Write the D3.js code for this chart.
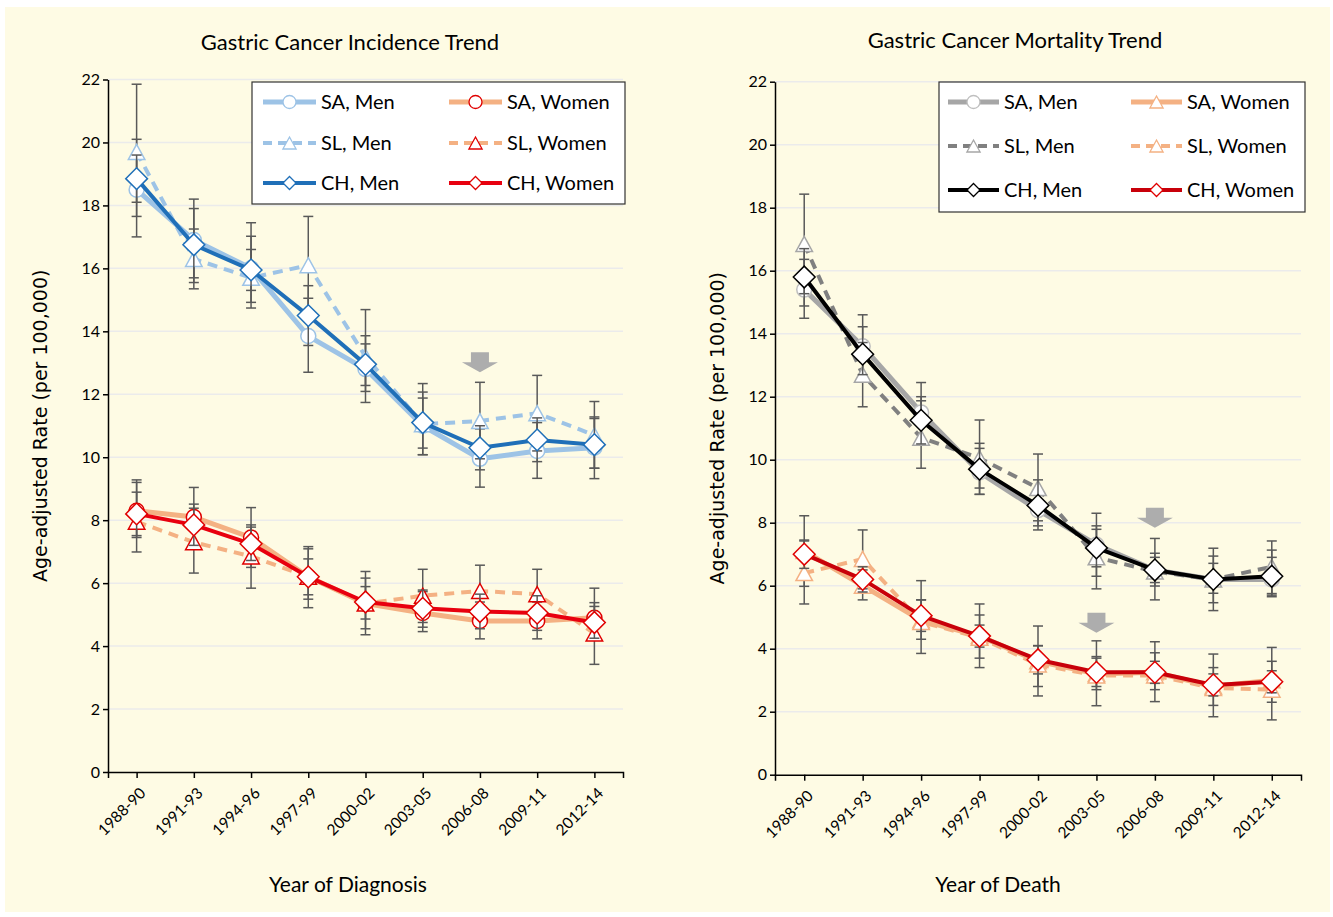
<!DOCTYPE html>
<html>
<head>
<meta charset="utf-8">
<script src="https://cdn.jsdelivr.net/npm/d3@7"></script>
<style>
  body { margin: 0; background: #ffffff; }
  svg text { font-family: Lato, "Open Sans", sans-serif; fill: #000; }
</style>
</head>
<body>
<div id="chart"></div>
<script>
// --- data ---
const periods = ["1988-90", "1991-93", "1994-96", "1997-99", "2000-02", "2003-05", "2006-08", "2009-11", "2012-14"];
const yTicks = [0, 2, 4, 6, 8, 10, 12, 14, 16, 18, 20, 22];

// incidence (left)
const incSAMen = [18.5, 16.9, 16.0, 13.85, 12.8, 11.0, 9.95, 10.2, 10.3];
const incSAMenLo = [17.0, 15.55, 14.92, 12.7, 12.09, 10.08, 9.05, 9.33, 9.32];
const incSAMenHi = [20.1, 18.2, 17.02, 15.05, 13.86, 12.07, 10.9, 11.1, 11.28];
const incSLMen = [19.7, 16.3, 15.7, 16.1, 13.2, 11.05, 11.15, 11.4, 10.7];
const incSLMenLo = [17.65, 15.35, 14.74, 14.6, 11.74, 10.08, 9.95, 10.2, 9.65];
const incSLMenHi = [21.85, 17.25, 17.45, 17.65, 14.69, 12.34, 12.38, 12.6, 11.77];
const incCHMen = [18.85, 16.75, 15.95, 14.5, 12.95, 11.1, 10.3, 10.55, 10.4];
const incCHMenLo = [18.1, 15.7, 15.3, 13.55, 12.28, 10.29, 9.6, 9.86, 9.65];
const incCHMenHi = [19.6, 17.9, 16.6, 15.45, 13.6, 11.88, 11.0, 11.25, 11.23];

const incSAWomen = [8.3, 8.1, 7.45, 6.2, 5.35, 5.05, 4.8, 4.8, 4.9];
const incSAWomenLo = [7.45, 7.16, 6.5, 5.22, 4.55, 4.46, 4.23, 4.23, 4.2];
const incSAWomenHi = [9.2, 9.04, 8.4, 7.16, 6.16, 5.73, 5.4, 5.4, 5.84];
const incSLWomen = [7.95, 7.3, 6.85, 6.2, 5.35, 5.6, 5.75, 5.65, 4.4];
const incSLWomenLo = [6.99, 6.32, 5.84, 5.49, 4.36, 4.75, 4.9, 4.85, 3.42];
const incSLWomenHi = [8.89, 8.38, 7.85, 7.09, 6.37, 6.44, 6.57, 6.44, 5.38];
const incCHWomen = [8.2, 7.85, 7.25, 6.2, 5.4, 5.2, 5.1, 5.05, 4.75];
const incCHWomenLo = [7.51, 7.2, 6.72, 5.63, 4.86, 4.6, 4.55, 4.5, 4.25];
const incCHWomenHi = [9.28, 8.51, 7.78, 6.77, 5.89, 5.78, 5.65, 5.6, 5.26];

// mortality (right)
const morSAMen = [15.4, 13.6, 11.5, 9.6, 8.4, 7.3, 6.5, 6.2, 6.2];
const morSAMenLo = [14.49, 12.6, 10.55, 8.9, 7.9, 6.3, 5.99, 5.46, 5.65];
const morSAMenHi = [16.36, 14.6, 12.45, 10.36, 8.95, 8.3, 7.03, 6.94, 7.13];
const morSLMen = [16.85, 12.7, 10.7, 10.05, 9.1, 6.9, 6.45, 6.2, 6.6];
const morSLMenLo = [15.27, 11.68, 9.73, 8.9, 8.06, 5.9, 5.55, 5.21, 5.75];
const morSLMenHi = [18.43, 13.72, 11.87, 11.26, 10.18, 7.9, 7.5, 7.19, 7.42];
const morCHMen = [15.8, 13.35, 11.25, 9.7, 8.55, 7.2, 6.5, 6.2, 6.3];
const morCHMenLo = [14.88, 12.7, 10.5, 9.1, 7.77, 6.6, 6.1, 5.76, 5.7];
const morCHMenHi = [16.7, 14.22, 12.0, 10.52, 9.36, 7.79, 6.9, 6.71, 6.9];

const morSAWomen = [7.1, 6.0, 4.9, 4.4, 3.6, 3.2, 3.25, 2.8, 3.0];
const morSAWomenLo = [5.98, 5.55, 4.3, 3.7, 2.8, 2.7, 2.7, 2.2, 2.3];
const morSAWomenHi = [8.22, 6.5, 5.55, 5.07, 4.1, 3.75, 3.87, 3.4, 3.6];
const morSLWomen = [6.4, 6.85, 4.85, 4.35, 3.5, 3.15, 3.15, 2.75, 2.7];
const morSLWomenLo = [5.42, 5.9, 3.85, 3.4, 2.5, 2.19, 2.32, 1.84, 1.74];
const morSLWomenHi = [7.42, 7.77, 6.16, 5.42, 4.72, 4.25, 4.22, 3.83, 4.04];
const morCHWomen = [7.0, 6.2, 5.05, 4.4, 3.65, 3.25, 3.25, 2.85, 2.95];
const morCHWomenLo = [6.55, 5.8, 4.55, 4.05, 3.2, 2.8, 2.9, 2.5, 2.6];
const morCHWomenHi = [7.45, 6.6, 5.55, 4.75, 4.09, 3.7, 3.6, 3.2, 3.3];

// grey arrows (tip value)
const incArrowPeriods = ["2006-08"];
const incArrowTips = [12.7];
const morArrowPeriods = ["2006-08", "2003-05"];
const morArrowTips = [7.84, 4.51];

const seriesNames = ["SA, Men", "SL, Men", "CH, Men", "SA, Women", "SL, Women", "CH, Women"];

// --- styles ---
const incStyles = [
  { line: "#9dc3e6", width: 5, dash: null, shape: "circle", mStroke: "#9dc3e6" },
  { line: "#9dc3e6", width: 4, dash: "10,7", shape: "triangle", mStroke: "#9dc3e6" },
  { line: "#1f6fb8", width: 4, dash: null, shape: "diamond", mStroke: "#1f6fb8" },
  { line: "#f4b183", width: 5, dash: null, shape: "circle", mStroke: "#e00000" },
  { line: "#f4b183", width: 4, dash: "10,7", shape: "triangle", mStroke: "#e00000" },
  { line: "#e8000f", width: 4, dash: null, shape: "diamond", mStroke: "#e00000" }
];
const morStyles = [
  { line: "#a6a6a6", width: 5, dash: null, shape: "circle", mStroke: "#bfbfbf" },
  { line: "#808080", width: 4, dash: "10,7", shape: "triangle", mStroke: "#a6a6a6" },
  { line: "#000000", width: 4, dash: null, shape: "diamond", mStroke: "#000000" },
  { line: "#f4b183", width: 5, dash: null, shape: "triangle", mStroke: "#f4b183" },
  { line: "#f4b183", width: 4, dash: "10,7", shape: "triangle", mStroke: "#f4b183" },
  { line: "#c8000a", width: 4, dash: null, shape: "diamond", mStroke: "#e00000" }
];

// r: circle radius; triangle and diamond scaled from it
function shapePath(shape, r) {
  if (shape === "circle") return d3.symbol(d3.symbolCircle, Math.PI * r * r)();
  if (shape === "triangle") return `M0,${-r}L${r * 1.1},${r}L${-r * 1.1},${r}Z`;
  return `M0,${-r * 1.45}L${r * 1.45},0L0,${r * 1.45}L${-r * 1.45},0Z`;
}
function legendPath(shape) {
  if (shape === "circle") return shapePath("circle", 6.5);
  if (shape === "triangle") return shapePath("triangle", 6);
  return `M0,-6.5L6.5,0L0,6.5L-6.5,0Z`;
}

const svg = d3.select("#chart").append("svg")
  .attr("width", 1333)
  .attr("height", 917);

svg.append("rect")
  .attr("x", 5).attr("y", 7)
  .attr("width", 1325).attr("height", 905)
  .attr("fill", "#fefbe4");

function drawPanel(cfg) {
  const x = d3.scalePoint().domain(periods).range([cfg.x0, cfg.x1]).padding(0.5);
  const y = d3.scaleLinear().domain([0, 22]).range([cfg.yBot, cfg.yTop]);
  const g = svg.append("g");

  // gridlines
  g.selectAll(".grid").data(yTicks.filter(d => d > 0)).join("line")
    .attr("x1", cfg.x0).attr("x2", cfg.x1)
    .attr("y1", d => y(d)).attr("y2", d => y(d))
    .attr("stroke", "#ebebeb").attr("stroke-width", 1.5);

  // series: error bars, line, markers
  cfg.series.forEach((s, k) => {
    const st = cfg.styles[k];
    const pts = s.values.map((v, i) => ({ p: periods[i], v: v, lo: s.lo[i], hi: s.hi[i] }));

    const eb = g.append("g").attr("stroke", "#595959").attr("stroke-width", 1.5);
    pts.forEach(d => {
      const cx = x(d.p);
      eb.append("line").attr("x1", cx).attr("x2", cx).attr("y1", y(d.lo)).attr("y2", y(d.hi));
      eb.append("line").attr("x1", cx - 5).attr("x2", cx + 5).attr("y1", y(d.lo)).attr("y2", y(d.lo));
      eb.append("line").attr("x1", cx - 5).attr("x2", cx + 5).attr("y1", y(d.hi)).attr("y2", y(d.hi));
    });

    g.append("path")
      .datum(pts)
      .attr("fill", "none")
      .attr("stroke", st.line)
      .attr("stroke-width", st.width)
      .attr("stroke-linejoin", "round")
      .attr("stroke-dasharray", st.dash)
      .attr("d", d3.line().x(d => x(d.p)).y(d => y(d.v)));

    g.selectAll(null).data(pts).join("path")
      .attr("transform", d => `translate(${x(d.p)},${y(d.v)})`)
      .attr("d", shapePath(st.shape, 7.5))
      .attr("fill", "#ffffff")
      .attr("stroke", st.mStroke)
      .attr("stroke-width", 1.5);
  });

  // arrows
  cfg.arrowPeriods.forEach((p, i) => {
    const ax = x(p), ay = y(cfg.arrowTips[i]);
    g.append("path")
      .attr("d", `M${ax - 9},${ay - 20}L${ax + 9},${ay - 20}L${ax + 9},${ay - 10}L${ax + 18},${ay - 10}L${ax},${ay}L${ax - 18},${ay - 10}L${ax - 9},${ay - 10}Z`)
      .attr("fill", "#adadad");
  });

  // axes
  const yAxis = g.append("g")
    .attr("transform", `translate(${cfg.x0},0)`)
    .call(d3.axisLeft(y).tickValues(yTicks).tickSize(5).tickSizeOuter(0));
  yAxis.select(".domain").attr("stroke", "#000").attr("stroke-width", 1.5);
  yAxis.selectAll(".tick line").attr("stroke", "#000").attr("stroke-width", 1.5);
  yAxis.selectAll("text").style("font-size", "16px").attr("x", -8).style("font-family", "Lato");

  const xAxis = g.append("g")
    .attr("transform", `translate(0,${cfg.yBot})`)
    .call(d3.axisBottom(x).tickSize(6).tickSizeOuter(6));
  xAxis.select(".domain").attr("stroke", "#000").attr("stroke-width", 1.5);
  xAxis.selectAll(".tick line").attr("stroke", "#000").attr("stroke-width", 1.5);
  xAxis.selectAll("text")
    .style("font-size", "15.5px")
    .style("font-family", "Lato")
    .style("text-anchor", "end")
    .attr("x", -9).attr("y", 17).attr("dy", "0.35em")
    .attr("transform", "rotate(-45)");

  // titles
  g.append("text")
    .attr("x", cfg.titleX).attr("y", cfg.titleY)
    .attr("text-anchor", "middle")
    .style("font-size", "22px")
    .text(cfg.title);

  g.append("text")
    .attr("transform", `translate(${cfg.yTitleX},${(cfg.yTop + cfg.yBot) / 2}) rotate(-90)`)
    .attr("text-anchor", "middle")
    .style("font-family", "'DejaVu Sans'")
    .style("font-size", "19px")
    .text("Age-adjusted Rate (per 100,000)");

  g.append("text")
    .attr("x", cfg.xTitleX).attr("y", cfg.xTitleY)
    .attr("text-anchor", "middle")
    .style("font-size", "21px")
    .text(cfg.xTitle);

  // legend
  const L = cfg.legend;
  const lg = g.append("g");
  lg.append("rect")
    .attr("x", L.x).attr("y", L.y).attr("width", L.w).attr("height", L.h)
    .attr("fill", "#ffffff").attr("stroke", "#333").attr("stroke-width", 1.2);
  seriesNames.forEach((name, k) => {
    const st = cfg.styles[k];
    const lx = k < 3 ? L.col1 : L.col2;
    const ly = L.rows[k % 3];
    lg.append("line")
      .attr("x1", lx).attr("x2", lx + L.len)
      .attr("y1", ly).attr("y2", ly)
      .attr("stroke", st.line).attr("stroke-width", st.width)
      .attr("stroke-dasharray", st.dash ? "9,6" : null);
    lg.append("path")
      .attr("transform", `translate(${lx + L.len / 2},${ly})`)
      .attr("d", legendPath(st.shape))
      .attr("fill", "#fff").attr("stroke", st.mStroke).attr("stroke-width", 1.3);
    lg.append("text")
      .attr("x", lx + L.len + 5).attr("y", ly)
      .attr("dy", "0.35em")
      .style("font-size", "20px")
      .text(name);
  });
}

drawPanel({
  x0: 108, x1: 623, yTop: 79.5, yBot: 772,
  title: "Gastric Cancer Incidence Trend", titleX: 350, titleY: 50,
  yTitleX: 47, xTitle: "Year of Diagnosis", xTitleX: 348, xTitleY: 892,
  styles: incStyles,
  series: [
    { values: incSAMen, lo: incSAMenLo, hi: incSAMenHi },
    { values: incSLMen, lo: incSLMenLo, hi: incSLMenHi },
    { values: incCHMen, lo: incCHMenLo, hi: incCHMenHi },
    { values: incSAWomen, lo: incSAWomenLo, hi: incSAWomenHi },
    { values: incSLWomen, lo: incSLWomenLo, hi: incSLWomenHi },
    { values: incCHWomen, lo: incCHWomenLo, hi: incCHWomenHi }
  ],
  arrowPeriods: incArrowPeriods, arrowTips: incArrowTips,
  legend: { x: 252, y: 82, w: 373, h: 122, rows: [102, 143, 183], col1: 263, col2: 449, len: 53 }
});

drawPanel({
  x0: 775, x1: 1301, yTop: 81.7, yBot: 774.7,
  title: "Gastric Cancer Mortality Trend", titleX: 1015, titleY: 48,
  yTitleX: 724, xTitle: "Year of Death", xTitleX: 998, xTitleY: 892,
  styles: morStyles,
  series: [
    { values: morSAMen, lo: morSAMenLo, hi: morSAMenHi },
    { values: morSLMen, lo: morSLMenLo, hi: morSLMenHi },
    { values: morCHMen, lo: morCHMenLo, hi: morCHMenHi },
    { values: morSAWomen, lo: morSAWomenLo, hi: morSAWomenHi },
    { values: morSLWomen, lo: morSLWomenLo, hi: morSLWomenHi },
    { values: morCHWomen, lo: morCHWomenLo, hi: morCHWomenHi }
  ],
  arrowPeriods: morArrowPeriods, arrowTips: morArrowTips,
  legend: { x: 939, y: 82, w: 366, h: 130, rows: [102, 146, 190], col1: 948, col2: 1131, len: 51 }
});
</script>
</body>
</html>
